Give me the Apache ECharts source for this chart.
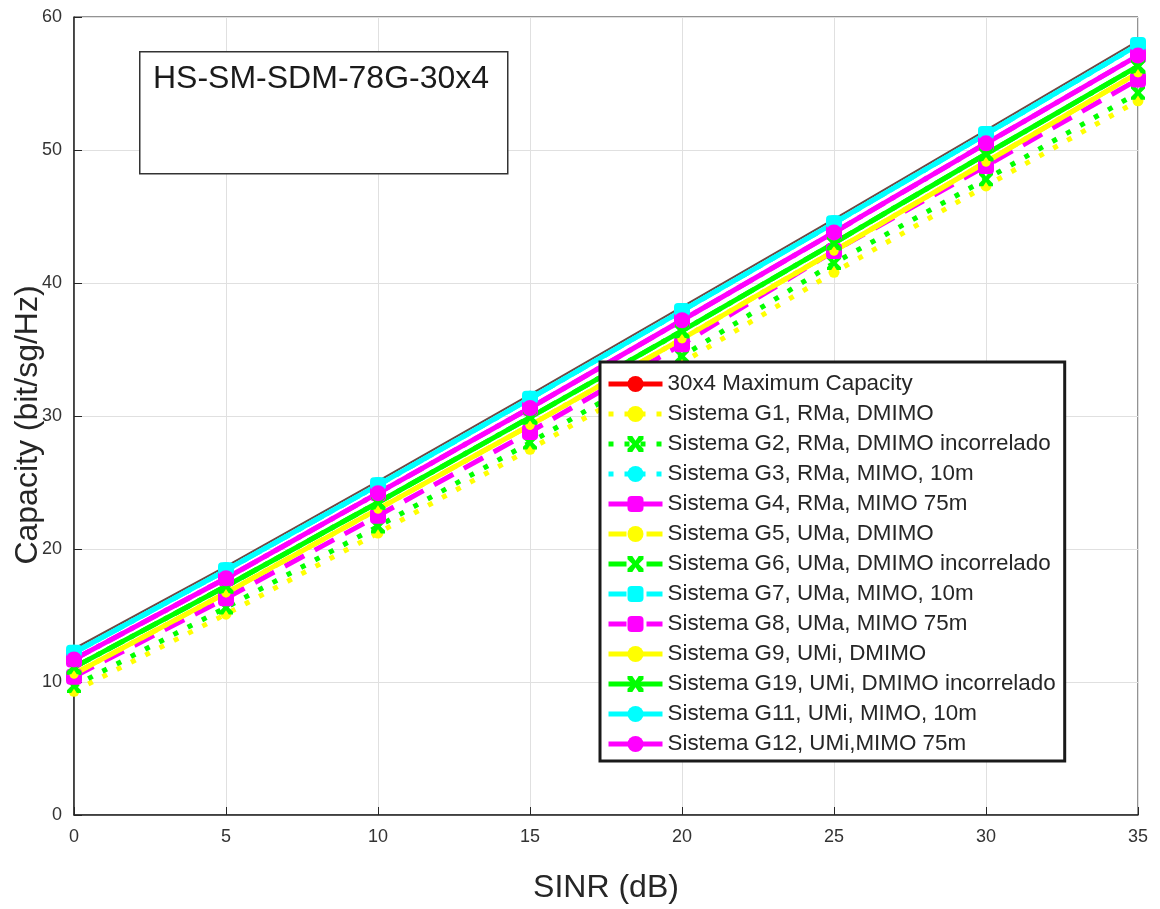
<!DOCTYPE html>
<html><head><meta charset="utf-8">
<script src="https://cdn.jsdelivr.net/npm/echarts@6/dist/echarts.min.js"></script>
<style>html,body{margin:0;padding:0;background:#fff}#c{width:1160px;height:909px}</style>
</head><body><div id="c"></div>
<script>
const sinr = [0, 5, 10, 15, 20, 25, 30, 35];
const xTicks = [0, 5, 10, 15, 20, 25, 30, 35];
const yTicks = [0, 10, 20, 30, 40, 50, 60];
const maxCap = [12.5, 18.7, 25.1, 31.6, 38.2, 44.8, 51.5, 58.2];
const g1 = [9.3, 15.1, 21.2, 27.5, 34.0, 40.8, 47.3, 53.7];
const g2 = [9.7, 15.6, 21.7, 28.0, 34.5, 41.5, 47.8, 54.3];
const g3 = [12.2, 18.4, 24.8, 31.3, 37.9, 44.5, 51.2, 57.9];
const g4 = [10.4, 16.3, 22.5, 28.8, 35.4, 42.4, 48.8, 55.3];
const g5 = [10.6, 16.7, 23.0, 29.3, 35.8, 42.4, 49.1, 55.8];
const g6 = [11.1, 17.2, 23.5, 29.9, 36.4, 43.0, 49.7, 56.3];
const g7 = [12.2, 18.4, 24.8, 31.3, 37.9, 44.5, 51.2, 57.9];
const g8 = [11.7, 17.8, 24.2, 30.6, 37.2, 43.8, 50.5, 57.1];
const g9 = [10.6, 16.7, 23.0, 29.3, 35.8, 42.4, 49.1, 55.8];
const g10 = [11.1, 17.2, 23.5, 29.9, 36.4, 43.0, 49.7, 56.3];
const g11 = [12.2, 18.4, 24.8, 31.3, 37.9, 44.5, 51.2, 57.9];
const g12 = [11.7, 17.8, 24.2, 30.6, 37.2, 43.8, 50.5, 57.1];
const names = [
  '30x4 Maximum Capacity',
  'Sistema G1, RMa, DMIMO',
  'Sistema G2, RMa, DMIMO incorrelado',
  'Sistema G3, RMa, MIMO, 10m',
  'Sistema G4, RMa, MIMO 75m',
  'Sistema G5, UMa, DMIMO',
  'Sistema G6, UMa, DMIMO incorrelado',
  'Sistema G7, UMa, MIMO, 10m',
  'Sistema G8, UMa, MIMO 75m',
  'Sistema G9, UMi, DMIMO',
  'Sistema G19, UMi, DMIMO incorrelado',
  'Sistema G11, UMi, MIMO, 10m',
  'Sistema G12, UMi,MIMO 75m'
];

const X = 'path://M0,0 L3,0 L5,3 L7,0 L10,0 L10,2 L7,5 L10,8 L10,10 L7,10 L5,7 L3,10 L0,10 L0,8 L3,5 L0,2 Z';
const Y = '#ffff00', G = '#00ff00', C = '#00ffff', M = '#ff00ff';
const DOT = [5, 11], DASH = [22, 12], DASHDOT = [18, 8, 4, 8];

function mk(name, data, color, type, symbol, size, lc, w) {
  return {
    name: name, type: 'line', data: sinr.map((x, i) => [x, data[i]]),
    symbol: symbol, symbolSize: size, showSymbol: true,
    itemStyle: { color: color },
    lineStyle: { color: lc || color, width: w || 5, type: type, cap: 'butt' },
    emphasis: { disabled: true }, animation: false
  };
}

const series = [
  mk(names[0], maxCap, '#ff0000', 'solid', 'circle', 3, '#6e4a44', 2),
  mk(names[1], g1, Y, DOT, 'circle', 11),
  mk(names[2], g2, G, DOT, X, 14),
  mk(names[3], g3, C, DOT, 'circle', 16),
  mk(names[4], g4, M, DASH, 'roundRect', 16),
  mk(names[5], g5, Y, DASHDOT, 'circle', 9),
  mk(names[6], g6, G, DASHDOT, X, 15),
  mk(names[7], g7, C, DASHDOT, 'roundRect', 16),
  mk(names[8], g8, M, DASHDOT, 'roundRect', 16),
  mk(names[9], g9, Y, 'solid', 'circle', 9),
  mk(names[10], g10, G, 'solid', X, 14),
  mk(names[11], g11, C, 'solid', 'circle', 16),
  mk(names[12], g12, M, 'solid', 'circle', 16)
];

const legendData = names.map((n, i) => i === 0 ? { name: n, lineStyle: { color: '#ff0000' } } : { name: n });

const chart = echarts.init(document.getElementById('c'), null, { renderer: 'canvas' });
chart.setOption({
  backgroundColor: '#ffffff',
  animation: false,
  grid: { left: 74, right: 22, top: 17, bottom: 94, containLabel: false, outerBoundsMode: 'none',
    show: true, borderColor: '#262626', borderWidth: 1, backgroundColor: 'transparent' },
  xAxis: {
    type: 'value', min: xTicks[0], max: xTicks[xTicks.length - 1], interval: 5,
    name: 'SINR (dB)', nameLocation: 'middle', nameGap: 57,
    nameTextStyle: { fontSize: 32, color: '#262626', fontFamily: 'Liberation Sans Narrow, Liberation Sans, Arial' },
    axisLine: { lineStyle: { color: '#262626', width: 1.5 } },
    axisTick: { inside: true, length: 8, lineStyle: { color: '#262626' } },
    axisLabel: { fontSize: 18, color: '#333333', margin: 13, fontFamily: 'Liberation Sans Narrow, Liberation Sans, Arial' },
    splitLine: { show: true, lineStyle: { color: '#e0e0e0', width: 1 } }
  },
  yAxis: {
    type: 'value', min: yTicks[0], max: yTicks[yTicks.length - 1], interval: 10,
    name: 'Capacity (bit/sg/Hz)', nameLocation: 'middle', nameGap: 30, nameMoveOverlap: false,
    nameTextStyle: { fontSize: 32, color: '#262626', fontFamily: 'Liberation Sans, Arial', padding: [0, 18, 0, 0] },
    axisLine: { show: true, lineStyle: { color: '#262626', width: 1.5 } },
    axisTick: { show: true, inside: true, length: 8, lineStyle: { color: '#262626' } },
    axisLabel: { fontSize: 18, color: '#333333', margin: 12, fontFamily: 'Liberation Sans, Arial' },
    splitLine: { show: true, lineStyle: { color: '#e0e0e0', width: 1 } }
  },
  legend: {
    orient: 'vertical', left: 600, top: 362, data: legendData,
    backgroundColor: '#ffffff', borderColor: '#1a1a1a', borderWidth: 3,
    padding: [11, 9, 6, 6], itemGap: 8, itemWidth: 54, itemHeight: 20,
    lineStyle: { width: 5 },
    textStyle: { fontSize: 22.4, lineHeight: 22, color: '#262626', fontFamily: 'Liberation Sans, Arial' },
    selectedMode: false, z: 10
  },
  graphic: [
    { type: 'rect', left: 139, top: 51, z: 5, shape: { width: 368, height: 122 }, style: { fill: '#ffffff', stroke: '#333333', lineWidth: 1.5 } },
    { type: 'text', left: 153, top: 63, z: 6, style: { text: 'HS-SM-SDM-78G-30x4', fontSize: 32, fill: '#1a1a1a', fontFamily: 'Liberation Sans, Arial' } }
  ],
  series: series
});
</script></body></html>
